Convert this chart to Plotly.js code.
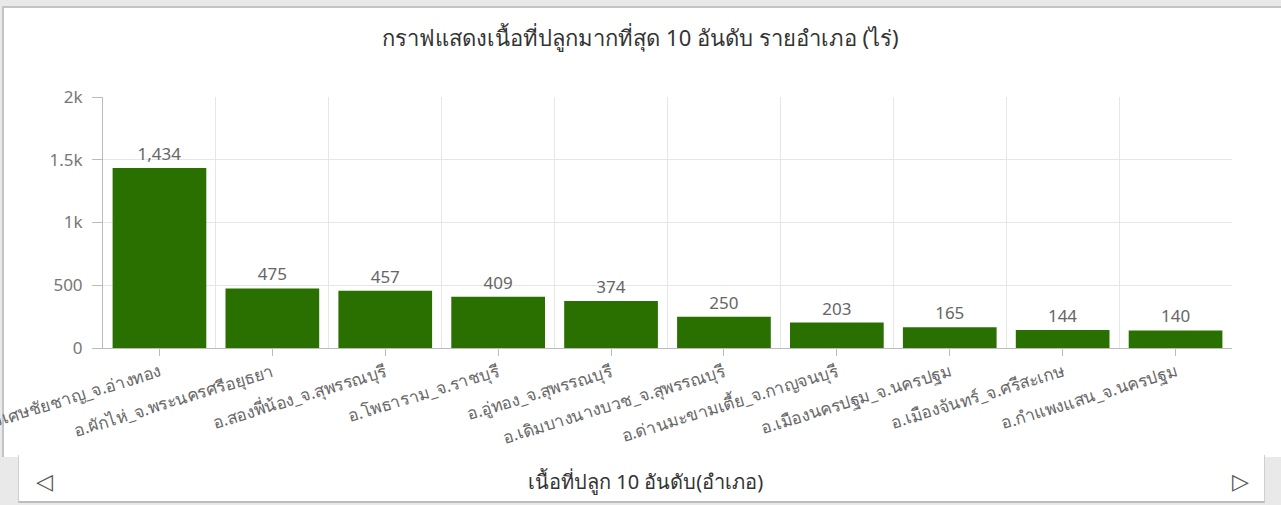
<!DOCTYPE html>
<html>
<head>
<meta charset="utf-8">
<script src="https://cdn.plot.ly/plotly-3.0.1.min.js"></script>
<style>
  html, body { margin:0; padding:0; width:1281px; height:505px; overflow:hidden; background:#e9e9e9; font-family:"Noto Sans", "DejaVu Sans", sans-serif; }
  #panel { position:absolute; left:2px; top:6px; width:1300px; height:451px; background:#fff; border-left:2px solid #c4c4c4; border-top:2px solid #c4c4c4; box-sizing:border-box; }
  #tab { position:absolute; left:18px; top:455px; width:1247px; height:48px; background:#fff; border-left:1px solid #cfcfcf; border-right:1px solid #cfcfcf; border-bottom:2px solid #bdbdbd; box-sizing:border-box; }
  #chart { position:absolute; left:0; top:0; width:1281px; height:505px; }
</style>
</head>
<body>
<div id="panel"></div>
<div id="tab"></div>
<div id="chart"></div>
<script>
const categories = [
  "อ.วิเศษชัยชาญ_จ.อ่างทอง",
  "อ.ผักไห่_จ.พระนครศรีอยุธยา",
  "อ.สองพี่น้อง_จ.สุพรรณบุรี",
  "อ.โพธาราม_จ.ราชบุรี",
  "อ.อู่ทอง_จ.สุพรรณบุรี",
  "อ.เดิมบางนางบวช_จ.สุพรรณบุรี",
  "อ.ด่านมะขามเตี้ย_จ.กาญจนบุรี",
  "อ.เมืองนครปฐม_จ.นครปฐม",
  "อ.เมืองจันทร์_จ.ศรีสะเกษ",
  "อ.กำแพงแสน_จ.นครปฐม"
];
const areaRai = [1434, 475, 457, 409, 374, 250, 203, 165, 144, 140];
const yTickVals = [0, 500, 1000, 1500, 2000];
const titleText = "กราฟแสดงเนื้อที่ปลูกมากที่สุด 10 อันดับ รายอำเภอ (ไร่)";
const tabText = "เนื้อที่ปลูก 10 อันดับ(อำเภอ)";

const FONT = "Noto Sans, DejaVu Sans, sans-serif";

const traces = [
  {
    type: "bar",
    x: categories,
    y: areaRai,
    marker: { color: "#2a7000" },
    text: areaRai.map(v => v.toLocaleString("en-US")),
    textposition: "outside",
    textfont: { color: "#666", size: 17, family: FONT },
    cliponaxis: false,
    hoverinfo: "x+y",
    xaxis: "x",
    yaxis: "y"
  },
  {
    type: "bar",
    x: categories,
    y: areaRai.map(() => 0),
    marker: { color: "rgba(0,0,0,0)" },
    hoverinfo: "skip",
    showlegend: false,
    xaxis: "x2",
    yaxis: "y"
  }
];

const layout = {
  width: 1281,
  height: 505,
  paper_bgcolor: "rgba(0,0,0,0)",
  plot_bgcolor: "rgba(0,0,0,0)",
  margin: { l: 103, r: 49, t: 97, b: 157 },
  showlegend: false,
  bargap: 0.17,
  font: { family: FONT, color: "#666" },
  title: {
    text: titleText,
    x: 0.5, xref: "container", xanchor: "center",
    y: 1 - 38 / 505, yref: "container", yanchor: "middle",
    font: { size: 22, color: "#333", family: FONT }
  },
  xaxis: {
    type: "category",
    showline: true, linecolor: "#bbb", linewidth: 1,
    ticks: "outside", ticklen: 7, tickcolor: "#bbb",
    showgrid: false,
    tickangle: -17,
    tickfont: { size: 17, color: "#666", family: FONT },
    automargin: false,
    zeroline: false
  },
  xaxis2: {
    type: "category",
    overlaying: "x",
    matches: "x",
    tickson: "boundaries",
    showgrid: true, gridcolor: "#e6e6e6", gridwidth: 1,
    showticklabels: false, ticks: "",
    showline: false, zeroline: false
  },
  yaxis: {
    range: [0, 2000],
    tickvals: yTickVals,
    tickformat: "~s",
    showline: true, linecolor: "#bbb", linewidth: 1,
    ticks: "outside", ticklen: 10, tickcolor: "#bbb",
    ticklabelstandoff: 6,
    showgrid: true, gridcolor: "#e6e6e6",
    tickfont: { size: 17, color: "#777", family: FONT },
    zeroline: false,
    automargin: false
  },
  annotations: [
    {
      text: tabText, xref: "paper", yref: "paper",
      x: (645 - 103) / 1129, y: (348 - 481) / 251,
      xanchor: "center", yanchor: "middle", showarrow: false,
      font: { size: 20, color: "#333", family: FONT }
    },
    {
      text: "◁", xref: "paper", yref: "paper",
      x: (44 - 103) / 1129, y: (348 - 481) / 251,
      xanchor: "center", yanchor: "middle", showarrow: false,
      font: { size: 22, color: "#555", family: "DejaVu Sans" }
    },
    {
      text: "▷", xref: "paper", yref: "paper",
      x: (1240 - 103) / 1129, y: (348 - 481) / 251,
      xanchor: "center", yanchor: "middle", showarrow: false,
      font: { size: 22, color: "#555", family: "DejaVu Sans" }
    }
  ]
};

Plotly.newPlot("chart", traces, layout, { displayModeBar: false, staticPlot: true });
</script>
</body>
</html>
